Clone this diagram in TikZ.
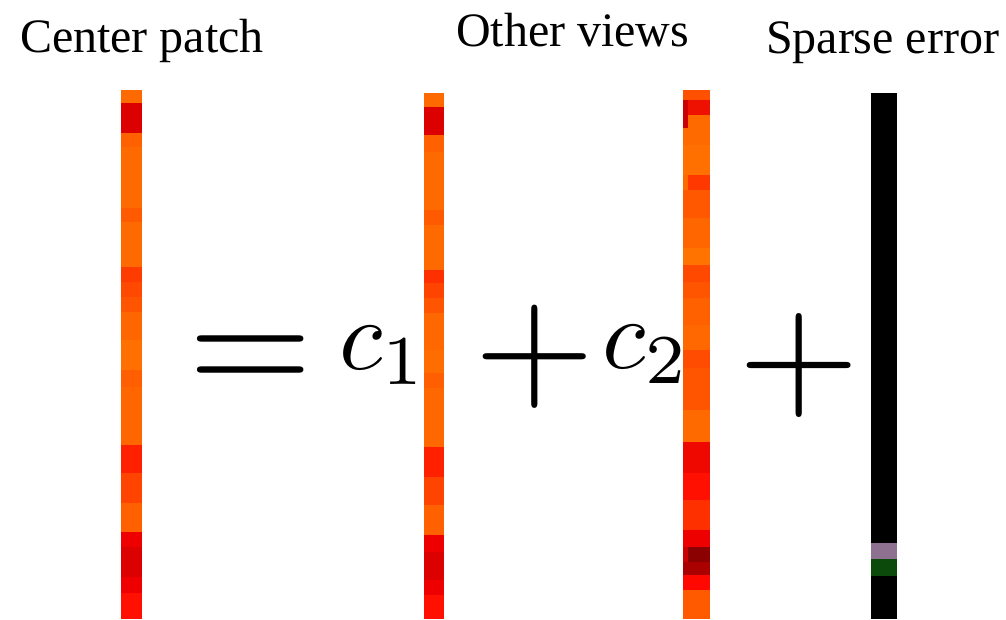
\documentclass[tikz,border=0pt]{standalone}
\usepackage[no-math]{fontspec}
\setmainfont{Liberation Serif}
\definecolor{dkred}{HTML}{CC0000}
\definecolor{orng}{HTML}{FF6A00}
\definecolor{purp}{HTML}{8E7090}
\definecolor{dgrn}{HTML}{0B4A0B}
\tikzset{
  lbl/.style={inner sep=0pt, outer sep=0pt, anchor=base west, font=\fontsize{48}{58}\selectfont},
  mth/.style={inner sep=0pt, outer sep=0pt, anchor=base west},
}
\begin{document}
\begin{tikzpicture}[x=1pt,y=-1pt]
\useasboundingbox (0,0) rectangle (1006,619);
\fill[white] (0,0) rectangle (1006,619);
% column 1
\foreach \ya/\yb/\cc in {90/103/FF6A00,103/133/DD0000,133/147/FF6000,147/208/FF6A00,208/222/FF5A00,222/267/FF6A00,267/282/FF3C00,282/297/FF4800,297/312/FF5500,312/340/FF6600,340/370/FF7000,370/387/FF5F00,387/445/FF6600,445/473/FF2000,473/503/FF4400,503/532/FF6000,532/547/EE0000,547/577/DD0000,577/593/EE0000,593/619/FF1000} {
  \definecolor{tmp}{HTML}{\cc}
  \fill[tmp] (121,\ya) rectangle (142,\yb);
}
% column 2
\foreach \ya/\yb/\cc in {93/107/FF6A00,107/135/DD0000,135/152/FF6000,152/210/FF6A00,210/225/FF5A00,225/270/FF6A00,270/283/FF3000,283/298/FF4400,298/313/FF5500,313/350/FF6800,350/373/FF6C00,373/388/FF5F00,388/447/FF6800,447/477/FF2000,477/505/FF4400,505/535/FF6000,535/552/EE0000,552/580/DD0000,580/595/EE0000,595/619/FF1000} {
  \definecolor{tmp}{HTML}{\cc}
  \fill[tmp] (424,\ya) rectangle (444,\yb);
}
% column 3
\foreach \ya/\yb/\cc in {90/100/FF5000,100/115/EE1000,115/145/FF6A00,145/175/FF7000,175/190/FF3800,190/218/FF5800,218/248/FF6600,248/265/FF7400,265/282/FF4800,282/298/FF5500,298/325/FF6000,325/350/FF6800,350/368/FF4C00,368/410/FF5500,410/442/FF6A00,442/473/EE0800,473/500/FF1000,500/530/FF3000,530/547/EE0000,547/562/8B0000,562/575/AA0000,575/590/FF0800,590/619/FF5A00} {
  \definecolor{tmp}{HTML}{\cc}
  \fill[tmp] (683,\ya) rectangle (710,\yb);
}
\fill[dkred] (683,100) rectangle (688,128);
\fill[orng] (683,175) rectangle (688,190);
\fill[dkred] (683,547) rectangle (688,562);
% column 4
\fill[black] (871,93) rectangle (897,619);
\fill[purp] (871,543) rectangle (897,559);
\fill[dgrn] (871,559) rectangle (897,576);
% labels
\node[lbl] (lc) at (20,52) {Center patch};
\node[lbl] (lo) at (456,46) {Other views};
\node[lbl] (ls) at (766,53) {Sparse error};
% equation
\node[mth] (eq) at (188,394) {\scalebox{16}{$=$}};
\node[mth] (c1) at (339,369) {\scalebox{10}{$c_1$}};
\node[mth] (p1) at (474,395) {\scalebox{15.5}{$+$}};
\node[mth] (c2) at (602,368) {\scalebox{10}{$c_2$}};
\node[mth] (p2) at (738,404) {\scalebox{15.6}{$+$}};
\end{tikzpicture}
\end{document}
